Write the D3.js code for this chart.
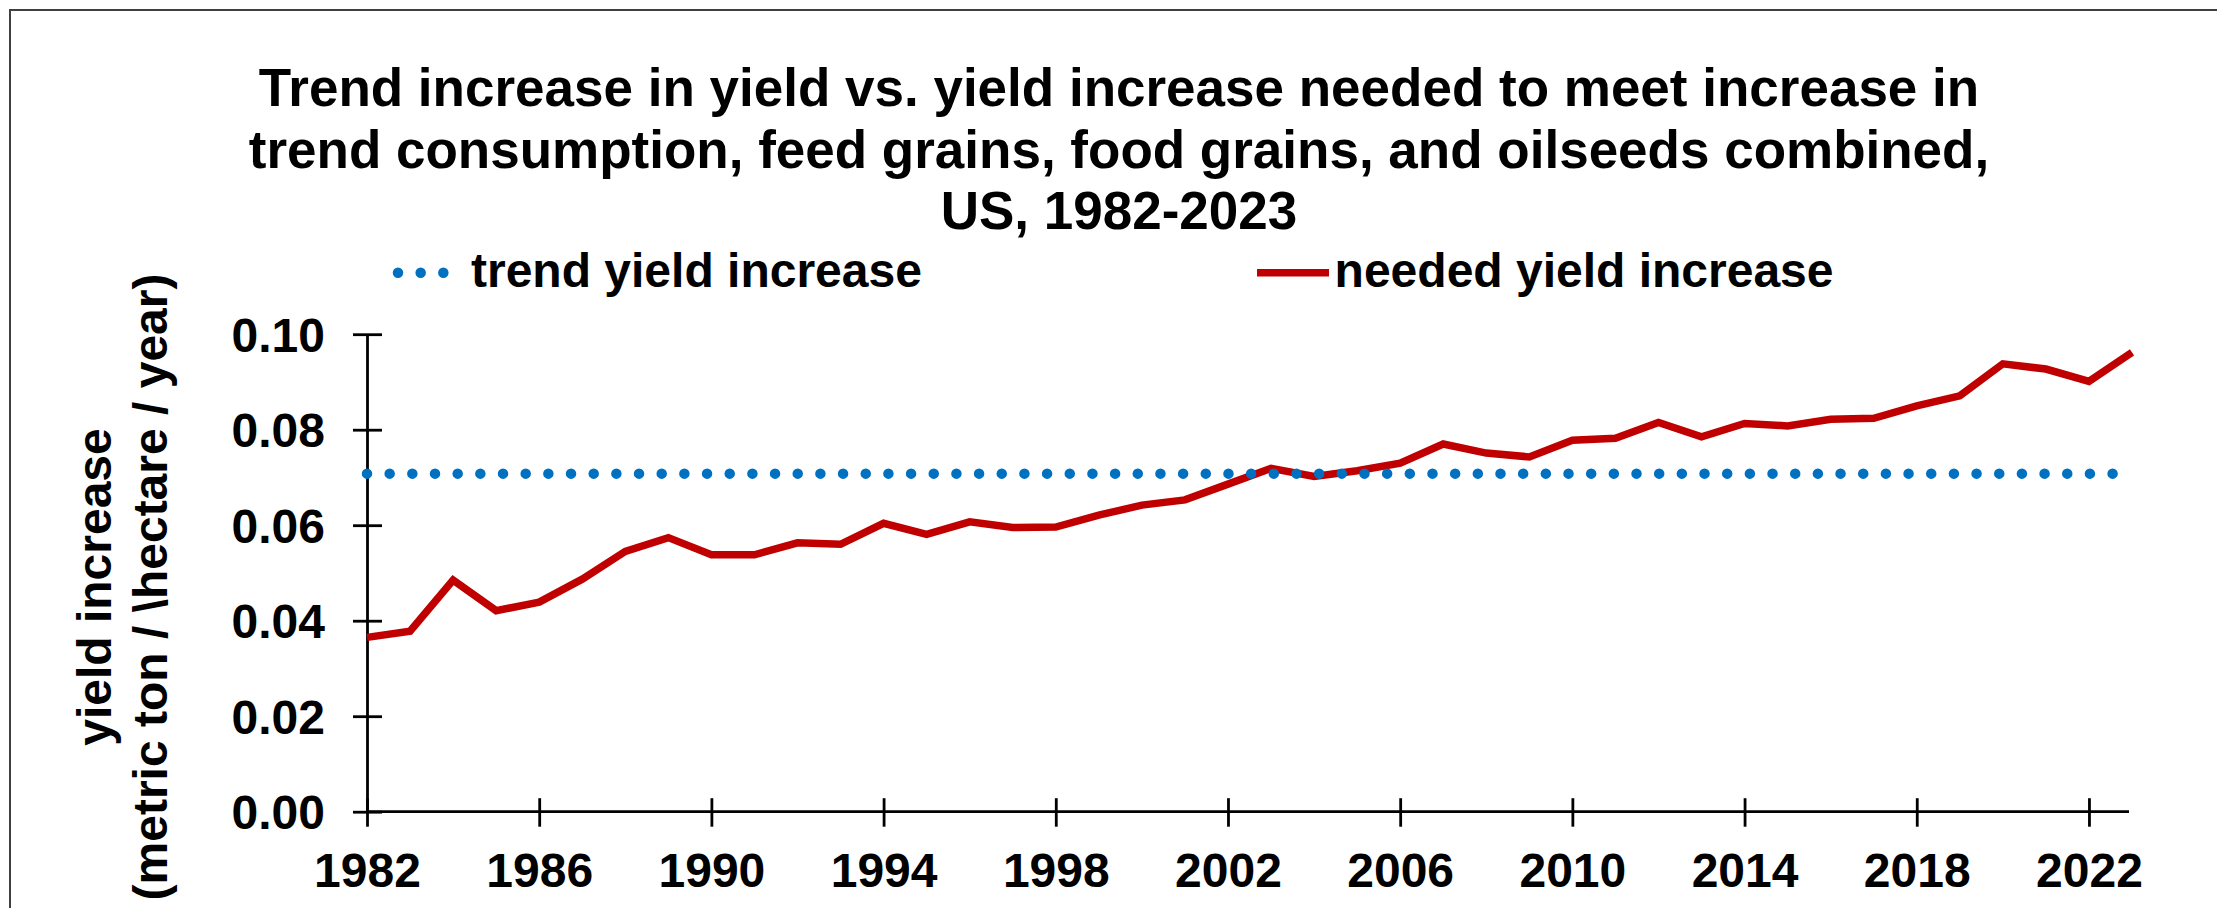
<!DOCTYPE html>
<html><head><meta charset="utf-8">
<script src="https://cdn.jsdelivr.net/npm/d3@7"></script>
<style>
html,body{margin:0;padding:0;background:#fff;overflow:hidden}
text{font-family:"Liberation Sans",Arial,sans-serif;font-weight:bold;fill:#000}
</style></head><body>
<svg id="chart" width="2217" height="908"></svg>
<script>
// ---- data ----
const years = [1982,1983,1984,1985,1986,1987,1988,1989,1990,1991,1992,1993,1994,1995,1996,1997,1998,1999,2000,2001,2002,
               2003,2004,2005,2006,2007,2008,2009,2010,2011,2012,2013,2014,2015,2016,2017,2018,2019,2020,2021,2022,2023];
const neededYield = [0.0365,0.0378,0.0485,0.0421,0.0439,0.0487,0.0545,0.0574,0.0538,0.0538,0.0563,0.0560,0.0604,0.0581,
                     0.0607,0.0595,0.0596,0.0621,0.0642,0.0653,0.0686,0.0719,0.0702,0.0714,0.0730,0.0770,0.0751,0.0743,
                     0.0778,0.0782,0.0815,0.0785,0.0813,0.0808,0.0822,0.0824,0.0850,0.0871,0.0938,0.0927,0.0901,0.0962];
const trendYears = [1982, 2023];
const trendYield = [0.0708, 0.0708];
const yTicks = [0, 0.02, 0.04, 0.06, 0.08, 0.10];
const xTicks = [1982,1986,1990,1994,1998,2002,2006,2010,2014,2018,2022];
const titleLines = ["Trend increase in yield vs. yield increase needed to meet increase in",
                    "trend consumption, feed grains, food grains, and oilseeds combined,",
                    "US, 1982-2023"];
const yTitleLines = ["yield increase", "(metric ton / \\hectare / year)"];
const seriesNames = ["trend yield increase", "needed yield increase"];

// ---- drawing ----
const svg = d3.select("#chart");
const x = d3.scaleLinear().domain([1982, 2023]).range([367, 2132]);
const y = d3.scaleLinear().domain([0, 0.10]).range([811.7, 334.2]);
const BLUE = "#0070C0", RED = "#C00000";
const FS = 48;

// frame
svg.append("path").attr("d", "M10,908V10H2217").attr("fill", "none")
   .attr("stroke", "#404040").attr("stroke-width", 2);

// title
svg.append("g").selectAll("text").data(titleLines).join("text")
  .attr("x", 1119).attr("y", (d, i) => 106 + i * 61.6)
  .attr("text-anchor", "middle").attr("font-size", 53).text(d => d);

// legend
const lg = svg.append("g");
lg.append("line").attr("x1", 398).attr("x2", 444).attr("y1", 272.7).attr("y2", 272.7)
  .attr("stroke", BLUE).attr("stroke-width", 10.5).attr("stroke-linecap", "round")
  .attr("stroke-dasharray", "0 22.67");
lg.append("text").attr("x", 471).attr("y", 287.3).attr("font-size", FS).text(seriesNames[0]);
lg.append("line").attr("x1", 1257).attr("x2", 1329).attr("y1", 272.7).attr("y2", 272.7)
  .attr("stroke", RED).attr("stroke-width", 7.5);
lg.append("text").attr("x", 1334.6).attr("y", 287.3).attr("font-size", FS).text(seriesNames[1]);

// y axis title
const yt = svg.append("text").attr("transform", "translate(0,587) rotate(-90)")
  .attr("text-anchor", "middle").attr("font-size", FS);
yt.selectAll("tspan").data(yTitleLines).join("tspan")
  .attr("x", 0).attr("y", (d, i) => 110.7 + i * 56).text(d => d);

// axes
const yAxis = svg.append("g").attr("transform", "translate(367,0)")
  .call(d3.axisLeft(y).tickValues(yTicks).tickFormat(d3.format(".2f")).tickSize(0).tickSizeOuter(0).tickPadding(42));
yAxis.attr("font-size", null).attr("font-family", null);
yAxis.select(".domain").attr("stroke", "#000").attr("stroke-width", 2.8);
yAxis.selectAll(".tick line").attr("x1", -14).attr("x2", 15).attr("stroke", "#000").attr("stroke-width", 2.8);
yAxis.selectAll(".tick text").attr("font-size", FS).attr("dy", "0.35em").attr("fill", "#000");

const xAxis = svg.append("g").attr("transform", "translate(0,811.7)")
  .call(d3.axisBottom(x).tickValues(xTicks).tickFormat(d3.format("d")).tickSize(0).tickSizeOuter(0));
xAxis.attr("font-size", null).attr("font-family", null);
xAxis.select(".domain").attr("stroke", "#000").attr("stroke-width", 2.8)
  .attr("d", `M${x(1982)},0H${x(2023) - 3}`);
xAxis.selectAll(".tick line").attr("y1", -13.5).attr("y2", 15).attr("stroke", "#000").attr("stroke-width", 2.8);
xAxis.selectAll(".tick text").attr("font-size", FS).attr("y", 75).attr("dy", null).attr("fill", "#000");

// series
svg.append("path").datum(years.map((yr, i) => [yr, neededYield[i]]))
  .attr("d", d3.line().x(d => x(d[0])).y(d => y(d[1])))
  .attr("fill", "none").attr("stroke", RED).attr("stroke-width", 7.5).attr("stroke-linejoin", "miter");

svg.append("path").datum(trendYears.map((yr, i) => [yr, trendYield[i]]))
  .attr("d", d3.line().x(d => x(d[0])).y(d => y(d[1])))
  .attr("fill", "none").attr("stroke", BLUE).attr("stroke-width", 10.5)
  .attr("stroke-linecap", "round").attr("stroke-dasharray", "0 22.67");
</script></body></html>
